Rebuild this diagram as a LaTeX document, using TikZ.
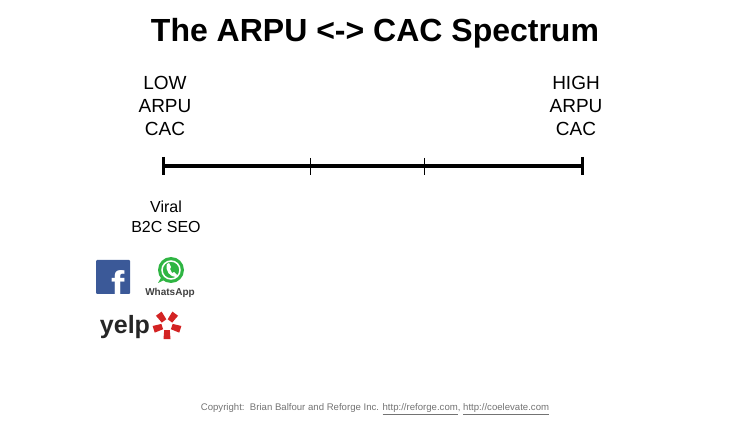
\documentclass[tikz,border=0pt]{standalone}
\usepackage{fontspec}
\setmainfont{Liberation Sans}
\begin{document}
\begin{tikzpicture}[x=1pt,y=-1pt,
  lbl/.style={font=\fontsize{19}{23}\selectfont,align=center,inner sep=0pt},
  sub/.style={font=\fontsize{16}{20}\selectfont,align=center,inner sep=0pt}]
\useasboundingbox (0,0) rectangle (750,422);
\node[font=\bfseries\fontsize{32}{36}\selectfont] (title) at (375,33) {The ARPU <-> CAC Spectrum};
\node[lbl] (low) at (165,106) {LOW\\ARPU\\CAC};
\node[lbl] (high) at (576,106) {HIGH\\ARPU\\CAC};
\coordinate (a) at (163,166); \coordinate (b) at (582,166);
\draw[line width=3.5pt] (a) -- (b);
\draw[line width=3pt] (163,157) -- (163,175) (582,157) -- (582,175);
\draw[line width=0.8pt] (310,158) -- (310,175) (424,158) -- (424,175);
\node[sub] (viral) at (166,217) {Viral\\B2C SEO};
% facebook
\definecolor{fb}{HTML}{3B5998}
\fill[fb,rounded corners=1pt] (96,260) rectangle (130,294);
\begin{scope}
\clip (96,260) rectangle (130,294);
\node[white,font=\bfseries\fontsize{40}{40}\selectfont,anchor=base,inner sep=0pt] (f) at (118,300) {f};
\end{scope}
% whatsapp
\definecolor{wa}{HTML}{2FB543}
\fill[wa] (158,283) -- (162,276) -- (166,279) -- cycle;
\fill[wa] (171,270) circle (13);
\draw[white,line width=1.5pt] (171,270) circle (9);
\fill[white] (167,264) -- (169,263) -- (171,267) -- (170,269) -- (172,273) -- (174,272) -- (177,275) -- (176,277) .. controls (170,277) and (165,271) .. (167,264);
\node[font=\bfseries\fontsize{10}{10}\selectfont,text=black!75,inner sep=0pt] (wat) at (170,293) {WhatsApp};
% yelp
\node[font=\bfseries\fontsize{25}{25}\selectfont,text=black!85,inner sep=0pt] (yelp) at (125,327) {yelp};
\definecolor{yr}{HTML}{D32323}
\begin{scope}[shift={(167,325)}]
\foreach \a in {-90,-18,54,126,198}{
  \fill[yr,rotate=\a] (5,-2.8) -- (14,-3.5) -- (14,3.5) -- (5,2.8) -- cycle;}
\end{scope}
\node[font=\fontsize{9.6}{11}\selectfont,text=black!55] (copy) at (375,409) {Copyright:\ \ Brian Balfour and Reforge Inc. \underline{http://reforge.com}, \underline{http://coelevate.com}};
\end{tikzpicture}
\end{document}
